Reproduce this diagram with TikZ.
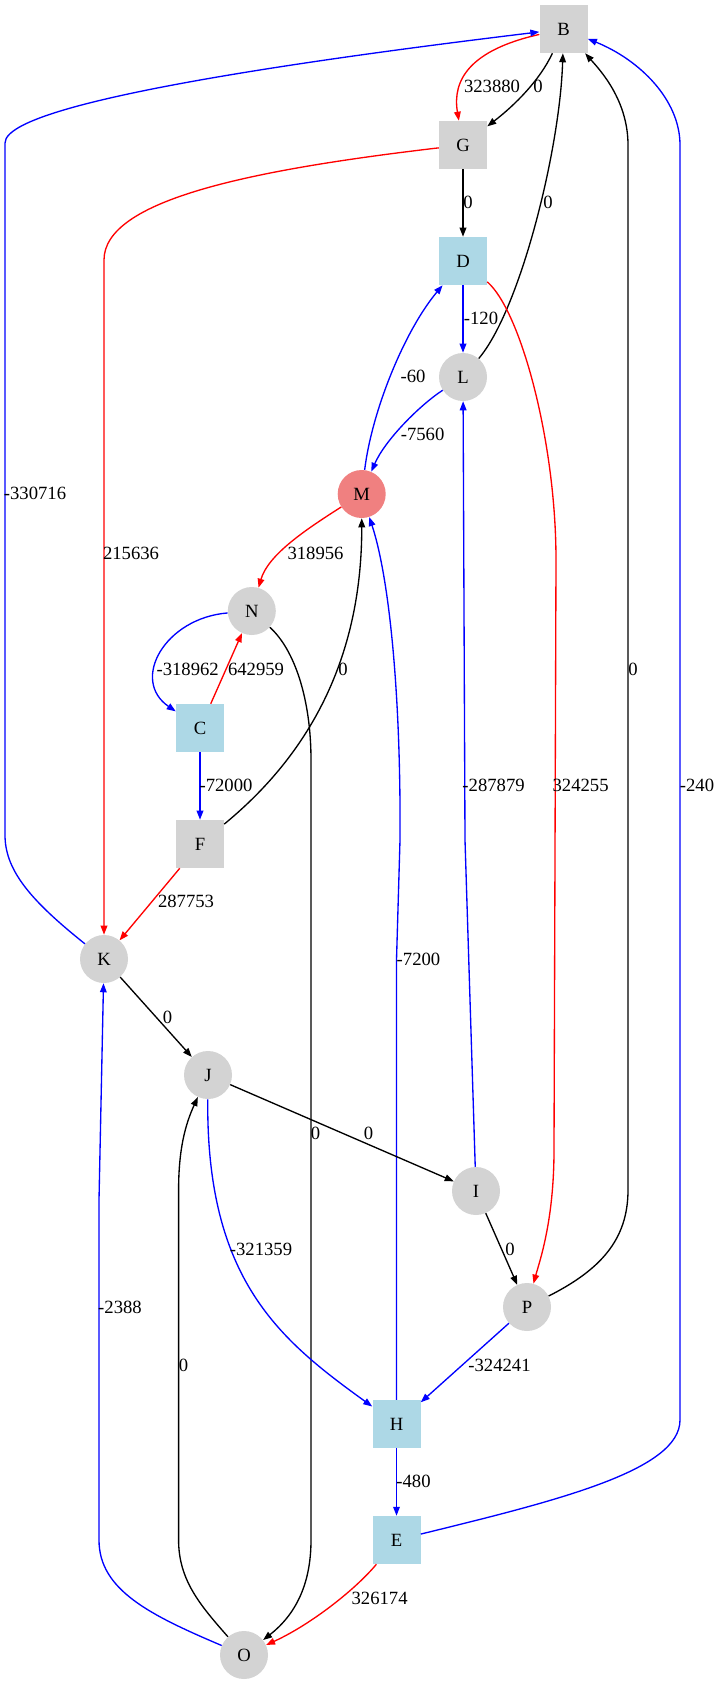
\documentclass[tikz,border=0pt]{standalone}
\usepackage{fontspec}
\setmainfont{Liberation Serif}
\usetikzlibrary{arrows.meta}
\definecolor{lgray}{HTML}{D3D3D3}
\definecolor{lblue}{HTML}{ADD8E6}
\definecolor{lcoral}{HTML}{F08080}
\begin{document}
\begin{tikzpicture}[x=0.75pt,y=-0.75pt,
  boxnode/.style={rectangle,minimum width=36pt,minimum height=36pt,inner sep=0pt,font=\fontsize{14}{16}\selectfont},
  circnode/.style={circle,minimum size=36pt,inner sep=0pt,font=\fontsize{14}{16}\selectfont},
  gr/.style={fill=lgray},
  lb/.style={fill=lblue},
  lc/.style={fill=lcoral},
  conn/.style={line width=1pt,-{Triangle[length=6.75pt,width=5pt]}},
  lbl/.style={font=\fontsize{14}{16}\selectfont,inner sep=0pt}]
\useasboundingbox (0,0) rectangle (717,1685);
% nodes
\node[boxnode,gr] (B) at (563.6,29) {B};
\node[boxnode,gr] (G) at (463,145) {G};
\node[boxnode,lb] (D) at (463,261) {D};
\node[circnode,gr] (L) at (463,377) {L};
\node[circnode,lc] (M) at (361.7,494) {M};
\node[circnode,gr] (N) at (251.8,611) {N};
\node[boxnode,lb] (C) at (200,728) {C};
\node[boxnode,gr] (F) at (200,844) {F};
\node[circnode,gr] (K) at (104,959) {K};
\node[circnode,gr] (J) at (208,1075) {J};
\node[circnode,gr] (I) at (476,1191) {I};
\node[circnode,gr] (P) at (527,1307) {P};
\node[boxnode,lb] (H) at (396.5,1424) {H};
\node[boxnode,lb] (E) at (396.5,1540) {E};
\node[circnode,gr] (O) at (244,1655) {O};
% edges
\draw[conn,red] (B) .. controls (470,50) and (452,80) .. (G);
\draw[conn] (B) .. controls (540,80) and (515,105) .. (G);
\draw[conn] (G) -- (D);
\draw[conn] (L) .. controls (520,310) and (560,150) .. (B);
\draw[conn,blue] (D) -- (L);
\draw[conn,blue] (M) .. controls (372,410) and (405,330) .. (D);
\draw[conn,blue] (L) .. controls (420,405) and (385,440) .. (M);
\draw[conn,red] (D) .. controls (520,310) and (556,440) .. (556,560) -- (554,1150) .. controls (554,1220) and (540,1260) .. (P);
\draw[conn] (P) .. controls (600,1270) and (628,1240) .. (628,1190) -- (628,145) .. controls (628,100) and (600,70) .. (B);
\draw[conn,blue] (E) .. controls (560,1500) and (680,1470) .. (680,1420) -- (680,145) .. controls (680,100) and (640,60) .. (B);
\draw[conn,blue] (K) .. controls (30,900) and (5,870) .. (5,835) -- (5,143) .. controls (5,120) and (100,85) .. (B);
\draw[conn,red] (G) .. controls (250,170) and (104,200) .. (104,260) -- (K);
\draw[conn,red] (M) .. controls (305,530) and (268,555) .. (N);
\draw[conn,blue] (N) .. controls (165,618) and (130,680) .. (C);
\draw[conn,red] (C) -- (N);
\draw[conn,blue] (C) -- (F);
\draw[conn] (F) .. controls (290,770) and (362,680) .. (M);
\draw[conn,red] (F) -- (K);
\draw[conn] (N) .. controls (295,650) and (311,700) .. (311,760) -- (311,1540) .. controls (311,1585) and (295,1615) .. (O);
\draw[conn,blue] (H) -- (396.5,960) -- (400,840) .. controls (401,700) and (390,580) .. (M);
\draw[conn,blue] (I) -- (465,840) -- (L);
\draw[conn] (K) -- (J);
\draw[conn] (J) -- (I);
\draw[conn] (I) -- (P);
\draw[conn,blue] (J) .. controls (206,1280) and (280,1340) .. (H);
\draw[conn,blue] (P) -- (H);
\draw[conn,blue] (H) -- (E);
\draw[conn,red] (E) .. controls (355,1590) and (310,1625) .. (O);
\draw[conn,blue] (O) .. controls (150,1615) and (99,1590) .. (99,1540) -- (99,1200) -- (K);
\draw[conn] (O) .. controls (200,1605) and (178.6,1580) .. (178.6,1540) -- (178.6,1190) .. controls (178.6,1150) and (185,1125) .. (J);
% labels
\node[lbl] (t1) at (492,86) {323880};
\node[lbl] (t2) at (538,86) {0};
\node[lbl] (t3) at (468,202) {0};
\node[lbl] (t4) at (548,202) {0};
\node[lbl] (t5) at (481,318) {-120};
\node[lbl] (t6) at (413,376) {-60};
\node[lbl] (t7) at (422.6,434) {-7560};
\node[lbl] (t8) at (35,493) {-330716};
\node[lbl] (t9) at (131,553) {215636};
\node[lbl] (t10) at (315.5,553) {318956};
\node[lbl] (t11) at (187.7,669) {-318962};
\node[lbl] (t12) at (256,669) {642959};
\node[lbl] (t13) at (343,669) {0};
\node[lbl] (t14) at (633,669) {0};
\node[lbl] (t15) at (226,785) {-72000};
\node[lbl] (t16) at (493.6,785) {-287879};
\node[lbl] (t17) at (580.6,785) {324255};
\node[lbl] (t18) at (697,785) {-240};
\node[lbl] (t19) at (186,901) {287753};
\node[lbl] (t20) at (418.5,959) {-7200};
\node[lbl] (t21) at (167.6,1017) {0};
\node[lbl] (t22) at (315.5,1133) {0};
\node[lbl] (t23) at (368.6,1133) {0};
\node[lbl] (t24) at (510,1249) {0};
\node[lbl] (t25) at (261,1249) {-321359};
\node[lbl] (t26) at (120,1307) {-2388};
\node[lbl] (t27) at (183.6,1365) {0};
\node[lbl] (t28) at (499.5,1365) {-324241};
\node[lbl] (t29) at (413.5,1481) {-480};
\node[lbl] (t30) at (379.6,1598) {326174};
\end{tikzpicture}
\end{document}
